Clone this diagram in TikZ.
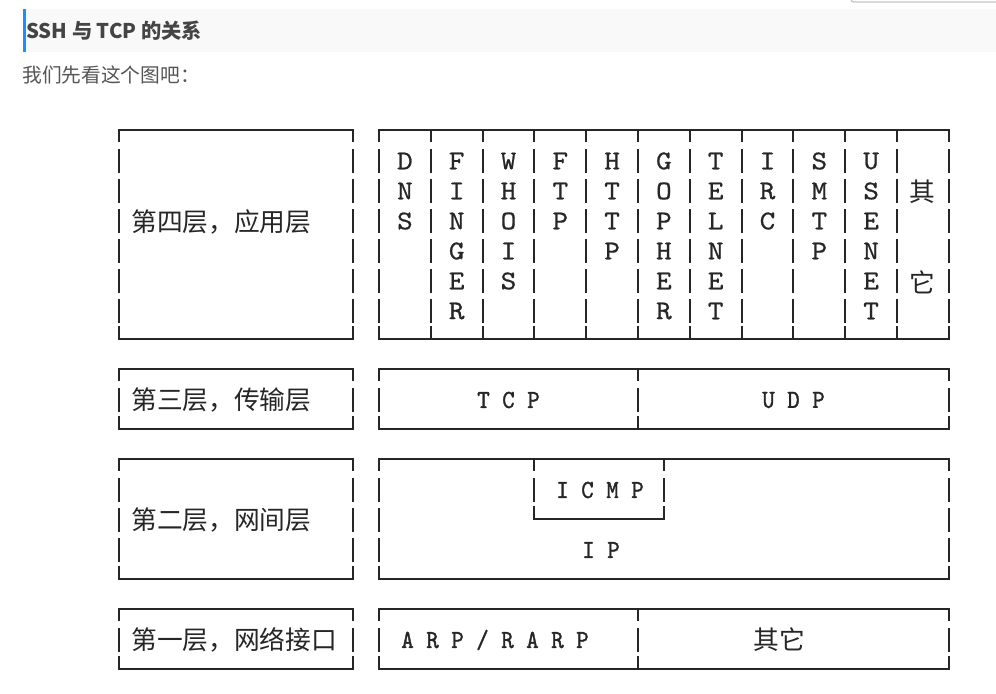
\documentclass[tikz,border=0pt]{standalone}
\usepackage{fontspec}
\newfontfamily\cjkfont{Noto Sans CJK SC}
\newfontfamily\asciifont{lmmono10-regular}[Extension=.otf,FakeStretch=0.915,FakeBold=1.2]
\newfontfamily\columnfont{lmmono10-regular}[Extension=.otf,FakeStretch=1.1,FakeBold=0.7]
\definecolor{inkgray}{RGB}{38,38,38}
\definecolor{headbg}{RGB}{249,249,249}
\definecolor{headblue}{RGB}{24,144,255}
\definecolor{titlegray}{RGB}{68,68,68}
\definecolor{introgray}{RGB}{85,85,85}

% one broken ascii-art bar: x, top, bottom, number of text rows
\newcommand{\layerbar}[4]{%
	\draw[boxline] (#1,#2) -- (#1,#2+11);
	\foreach \r in {1,...,#4}
		\draw[boxline] (#1,#2+30*\r-10.5) -- (#1,#2+30*\r+12.5);
	\draw[boxline] (#1,#3-12) -- (#1,#3);
}

\begin{document}
\begin{tikzpicture}[x=0.75pt,y=-0.75pt,
	boxline/.style={draw=inkgray,line width=1.4pt,line cap=rect},
	layername/.style={anchor=west,inner sep=0pt,text=inkgray,font=\cjkfont\fontsize{19.3}{20}\selectfont},
	cjklabel/.style={inner sep=0pt,text=inkgray,font=\cjkfont\fontsize{19.3}{20}\selectfont},
	protocol/.style={inner sep=0pt,text=inkgray,font=\asciifont\fontsize{19.5}{20}\selectfont},
	letter/.style={inner sep=0pt,text=inkgray,font=\columnfont\fontsize{20.3}{21}\selectfont}]

	\useasboundingbox[fill=white] (0,0) rectangle (996,693);

	% page header
	\fill[headbg] (23,9) rectangle (996,52);
	\fill[headblue] (23,9) rectangle (25.5,52);
	\draw[black!22,line width=1pt,rounded corners=2pt] (851,-6) -- (851,2) -- (1000,2);
	\node (title) [anchor=west,inner sep=0pt,text=titlegray,font=\cjkfont\bfseries\fontsize{15.2}{17}\selectfont] at (26,31) {SSH 与 TCP 的关系};
	\node (intro) [anchor=west,inner sep=0pt,text=introgray,font=\cjkfont\fontsize{14.8}{16}\selectfont] at (22,75) {我们先看这个图吧：};

	% the four layers, left name box and right protocol box
	\foreach \ytop/\ybot/\nrows in {130/339/6, 369/429/1, 459/579/3, 609/669/1} {
		\draw[boxline] (119,\ytop) -- (353,\ytop);
		\draw[boxline] (119,\ybot) -- (353,\ybot);
		\layerbar{119}{\ytop}{\ybot}{\nrows}
		\layerbar{353}{\ytop}{\ybot}{\nrows}
		\draw[boxline] (379,\ytop) -- (949,\ytop);
		\draw[boxline] (379,\ybot) -- (949,\ybot);
		\layerbar{379}{\ytop}{\ybot}{\nrows}
		\layerbar{949}{\ytop}{\ybot}{\nrows}
	}

	% application columns
	\foreach \i in {1,...,10} {
		\layerbar{379+51.8*\i}{130}{339}{6}
	}

	%\draw[step=30,gray,very thin] (0,0) grid (996,693);

	\layerbar{638}{369}{429}{1}
	\layerbar{638}{609}{669}{1}

	% icmp inside ip
	\layerbar{534}{459}{519}{1}
	\layerbar{664}{459}{519}{1}
	\draw[boxline] (534,519) -- (664,519);

	\node (l4) [layername] at (131,222) {第四层，应用层};
	\node (l3) [layername] at (131,400) {第三层，传输层};
	\node (l2) [layername] at (131,520) {第二层，网间层};
	\node (l1) [layername] at (131,640) {第一层，网络接口};

	\foreach \letters [count=\i from 0] in {{D,N,S},{F,I,N,G,E,R},{W,H,O,I,S},{F,T,P},{H,T,T,P},{G,O,P,H,E,R},{T,E,L,N,E,T},{I,R,C},{S,M,T,P},{U,S,E,N,E,T}} {
		\foreach \ltr [count=\r from 0] in \letters
			\node (app-\i-\r) [letter] at (404.9+51.8*\i,161+30*\r) {\ltr};
	}
	\node (qi) [cjklabel] at (922,192) {其};
	\node (ta) [cjklabel] at (922,282) {它};

	\node (tcp) [protocol] at (508.5,400) {T C P};
	\node (udp) [protocol] at (793.5,400) {U D P};
	\node (icmp) [protocol] at (600,490) {I C M P};
	\node (ip) [protocol] at (601,550) {I P};
	\node (arp) [protocol] at (495,640) {A R P / R A R P};
	\node (other) [cjklabel] at (779,640) {其它};

\end{tikzpicture}
\end{document}
